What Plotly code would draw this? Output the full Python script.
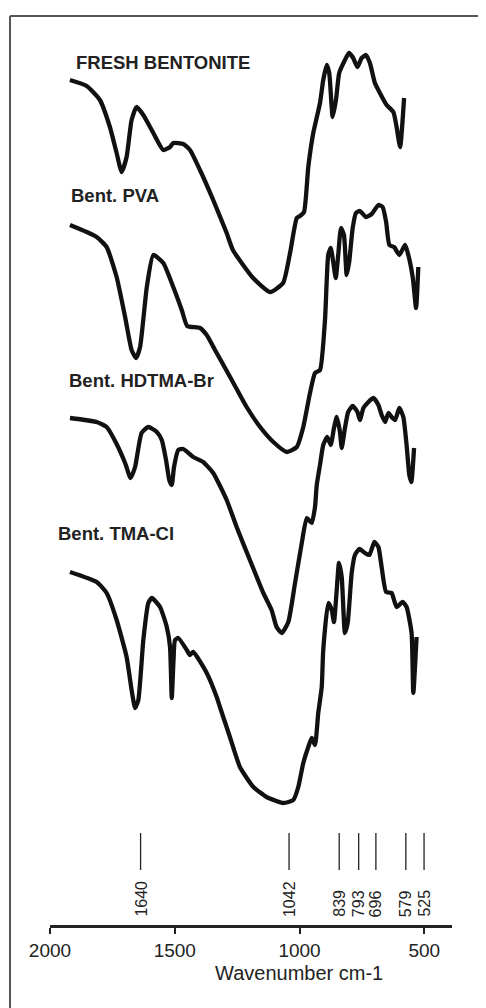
import plotly.graph_objects as go

# ---- data (wavenumber cm-1, relative transmittance, arbitrary offset units) ----
fresh_wn = [1920, 1853, 1800, 1760, 1733, 1713, 1693, 1673, 1653, 1626, 1586, 1546, 1519, 1506, 1466,
            1439, 1399, 1346, 1292, 1267, 1186, 1118, 1066, 1038, 1011, 998, 982, 965, 945, 918, 905,
            891, 881, 867, 854, 841, 818, 802, 785, 768, 751, 734, 718, 698, 678, 651, 624, 611, 597, 581]
fresh_t = [845, 839, 825, 798, 772, 753, 768, 805, 818, 810, 792, 775, 778, 782, 781,
           775, 755, 725, 692, 675, 647, 633, 642, 672, 707, 709, 713, 758, 792, 822, 845,
           860, 852, 808, 825, 852, 865, 872, 867, 858, 867, 870, 862, 842, 832, 820, 813, 798, 778, 827]

pva_wn = [1920, 1853, 1813, 1773, 1733, 1699, 1673, 1655, 1639, 1612, 1586, 1546, 1506, 1472, 1450,
          1399, 1372, 1332, 1265, 1212, 1158, 1105, 1051, 1011, 985, 958, 938, 918, 898, 885, 875,
          865, 855, 845, 834, 822, 811, 801, 787, 774, 758, 734, 711, 684, 667, 653, 640, 621, 600,
          577, 564, 546, 533, 524]
pva_t = [700, 693, 688, 678, 648, 608, 575, 567, 578, 638, 670, 662, 638, 615, 599,
         597, 590, 572, 542, 518, 498, 483, 473, 478, 498, 532, 552, 555, 605, 670, 677,
         663, 647, 670, 697, 690, 650, 663, 697, 712, 714, 708, 711, 720, 718, 703, 680, 678, 670,
         680, 670, 647, 617, 658]

hdtma_wn = [1920, 1813, 1773, 1733, 1699, 1677, 1659, 1633, 1606, 1572, 1552, 1535, 1522, 1512, 1503,
            1486, 1466, 1426, 1386, 1346, 1292, 1252, 1199, 1145, 1112, 1092, 1071, 1045, 1018, 991,
            971, 951, 938, 931, 918, 905, 889, 875, 862, 851, 838, 831, 818, 805, 787, 768, 758, 744,
            724, 704, 684, 671, 657, 644, 631, 617, 600, 584, 571, 560, 552, 541]
hdtma_t = [507, 503, 498, 481, 462, 447, 458, 492, 498, 493, 485, 465, 445, 440, 458,
           475, 476, 468, 463, 452, 425, 398, 365, 332, 315, 298, 292, 303, 342, 382,
           407, 402, 418, 440, 460, 480, 488, 480, 497, 508, 493, 477, 497, 513, 519, 513, 505, 517,
           523, 527, 520, 510, 503, 512, 508, 505, 517, 508, 480, 450, 443, 477]

tma_wn = [1920, 1813, 1773, 1733, 1693, 1673, 1659, 1646, 1626, 1606, 1592, 1559, 1532, 1519, 1512,
          1505, 1499, 1486, 1452, 1439, 1426, 1372, 1332, 1319, 1279, 1239, 1185, 1132, 1065, 1025,
          1005, 985, 965, 951, 938, 925, 911, 905, 885, 871, 862, 851, 842, 831, 818, 807, 791, 778,
          760, 738, 720, 700, 684, 671, 653, 631, 611, 587, 571, 551, 544, 531]
tma_t = [353, 343, 332, 305, 268, 235, 217, 225, 285, 322, 327, 318, 298, 278, 227,
         265, 285, 287, 275, 270, 273, 252, 228, 218, 188, 158, 138, 128, 122, 125,
         138, 162, 178, 187, 180, 212, 238, 275, 322, 315, 303, 335, 362, 348, 292, 302, 352, 370,
         376, 372, 370, 383, 378, 358, 333, 332, 318, 323, 318, 292, 232, 288]

series_names = ["FRESH BENTONITE", "Bent. PVA", "Bent. HDTMA-Br", "Bent. TMA-Cl"]

band_labels = ["1640", "1042", "839", "793", "696", "579", "525"]
band_positions = [1637, 1042, 841, 763, 694, 574, 501]

x_ticks = [2000, 1500, 1000, 500]

# ---- figure (page body adds an 8px margin, so the figure is drawn 8px smaller) ----
OFF = 8
W, H = 486 - OFF, 1008 - OFF
ML, MT = 50 - OFF, 16 - OFF
plot_w = 402
plot_h = 909
MR = W - ML - plot_w
MB = H - MT - plot_h
AXIS_Y = MT + plot_h  # pixel row of the x axis in figure coords

fig = go.Figure()

for wn, t in [(fresh_wn, fresh_t), (pva_wn, pva_t), (hdtma_wn, hdtma_t), (tma_wn, tma_t)]:
    fig.add_trace(go.Scatter(x=wn, y=t, mode="lines",
                             line=dict(color="#111111", width=4.3, shape="spline", smoothing=0.5),
                             hoverinfo="skip", showlegend=False))

# band marker lines
bx, by = [], []
for p in band_positions:
    bx += [p, p, None]
    by += [55, 92, None]
fig.add_trace(go.Scatter(x=bx, y=by, mode="lines", line=dict(color="#222222", width=1.3),
                         hoverinfo="skip", showlegend=False))

FONT = "Liberation Sans, Arial, sans-serif"
annotations = []
# series labels
label_pos = [(1904, 863), (1924, 730), (1933, 545), (1976, 392)]
for name, (lx, ly) in zip(series_names, label_pos):
    annotations.append(dict(x=lx, y=ly, xref="x", yref="y", text="<b>" + name + "</b>", showarrow=False,
                            xanchor="left", yanchor="middle",
                            font=dict(family=FONT, size=18.5, color="#222222")))
# band labels
for lab, p in zip(band_labels, band_positions):
    annotations.append(dict(x=p, y=6, xref="x", yref="y", text=lab, showarrow=False,
                            textangle=-90, xanchor="center", yanchor="bottom",
                            font=dict(family=FONT, size=16, color="#222222")))
# axis title
annotations.append(dict(x=1004, y=-48 / plot_h, xref="x", yref="paper",
                        text="Wavenumber cm-1", showarrow=False, xanchor="center", yanchor="middle",
                        font=dict(family=FONT, size=20, color="#222222")))

# frame (left and top lines), positions in figure pixels
px = lambda v: (v - ML) / plot_w
py = lambda v: (AXIS_Y - v) / plot_h
shapes = [
    dict(type="line", xref="paper", yref="paper", x0=px(10 - OFF), x1=px(10 - OFF),
         y0=py(16 - OFF), y1=py(H + 5), line=dict(color="#555555", width=2)),
    dict(type="line", xref="paper", yref="paper", x0=px(10 - OFF), x1=px(W + 5),
         y0=py(16 - OFF), y1=py(16 - OFF), line=dict(color="#555555", width=2)),
]

fig.update_layout(
    width=W, height=H,
    margin=dict(l=ML, r=MR, t=MT, b=MB),
    paper_bgcolor="white", plot_bgcolor="white",
    showlegend=False,
    annotations=annotations,
    shapes=shapes,
    xaxis=dict(range=[2000, 389], tickvals=x_ticks, ticktext=[str(v) for v in x_ticks],
               showgrid=False, zeroline=False, showline=True, linecolor="#222222", linewidth=2.5,
               ticks="outside", ticklen=6, tickwidth=2, tickcolor="#222222",
               tickfont=dict(family=FONT, size=19, color="#222222")),
    yaxis=dict(range=[0, plot_h], visible=False, showgrid=False, zeroline=False),
)

fig.write_html("out.html")
